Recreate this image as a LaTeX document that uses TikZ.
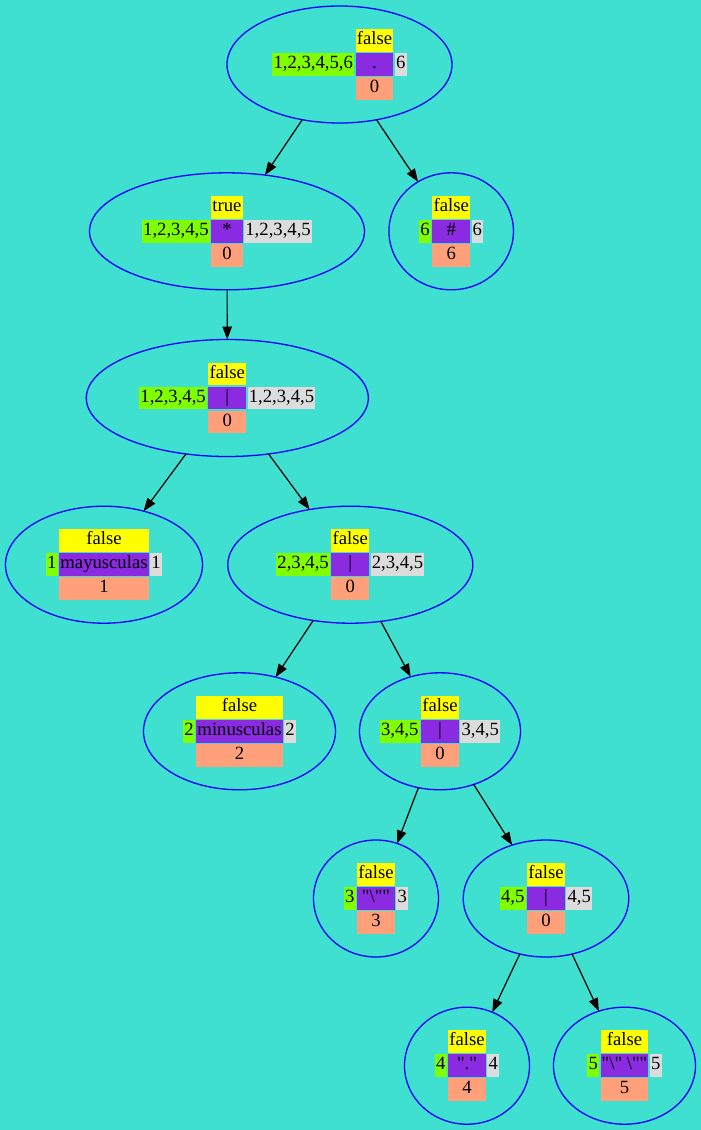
\documentclass[tikz,border=0pt]{standalone}
\usepackage{fontspec}
\setmainfont{Liberation Serif}[Ligatures=TeXOff]
\usetikzlibrary{shapes.geometric,matrix,arrows.meta}

\definecolor{bgturq}{HTML}{40E0D0}
\definecolor{cbool}{HTML}{FFFF00}
\definecolor{cfirst}{HTML}{7FFF00}
\definecolor{csym}{HTML}{8A2BE2}
\definecolor{clast}{HTML}{DCDCDC}
\definecolor{cnum}{HTML}{FFA07A}

\newcommand\gvfont{\fontsize{18.67}{22}\selectfont}

% centre-column text #4, as wide as the widest of #1, #2 and #3
\newcommand\gvmid[4]{\ooalign{\hphantom{#1}\cr\hphantom{#2}\cr\hphantom{#3}\cr\hfil#4\hfil\cr}}

\tikzset{
  gvell/.style={ellipse, draw=blue, line width=1.3pt, minimum height=117pt,
    inner sep=0pt, outer sep=0pt},
  gvtab/.style={inner sep=0pt, outer sep=0pt, column sep=1.5pt, row sep=1.5pt,
    ampersand replacement=\&},
  gvcell/.style={inner xsep=1.2pt, inner ysep=0pt, outer sep=0pt,
    minimum height=22.5pt, text height=15.5pt, text depth=7pt, font=\gvfont},
  boolcell/.style={gvcell, fill=cbool},
  firstcell/.style={gvcell, fill=cfirst},
  symcell/.style={gvcell, fill=csym},
  lastcell/.style={gvcell, fill=clast},
  numcell/.style={gvcell, fill=cnum},
  gvedge/.style={draw=black, line width=1.2pt, -{Triangle[length=13pt,width=9.5pt]}},
}

% #1 name, #2 centre, #3 ellipse width, #4 nullable, #5 firstpos,
% #6 symbol, #7 lastpos, #8 position number
\newcommand\gvnode[8]{%
  \node[gvell, minimum width=#3pt] (#1) at (#2) {};
  \matrix[gvtab] (#1-tab) at (#1.center) {
    \& \node[boolcell] {\gvmid{#4}{#6}{#8}{#4}}; \& \\
    \node[firstcell] {#5}; \& \node[symcell] {\gvmid{#4}{#6}{#8}{#6}}; \& \node[lastcell] {#7}; \\
    \& \node[numcell] {\gvmid{#4}{#6}{#8}{#8}}; \& \\
  };
}

\begin{document}
\begin{tikzpicture}[x=1pt, y=-1pt]
  \fill[bgturq] (0,0) rectangle (701,1130);
  \useasboundingbox (0,0) rectangle (701,1130);

  \gvnode{root}{339.5,64.5}{225}{false}{1,2,3,4,5,6}{.}{6}{0}
  \gvnode{star}{227,231.3}{275}{true}{1,2,3,4,5}{*}{1,2,3,4,5}{0}
  \gvnode{hash}{451.2,231.3}{124.5}{false}{6}{\#}{6}{6}
  \gvnode{alt1}{227.3,398}{282}{false}{1,2,3,4,5}{|}{1,2,3,4,5}{0}
  \gvnode{mayus}{104,564.7}{197}{false}{1}{mayusculas}{1}{1}
  \gvnode{alt2}{350.3,564.7}{245}{false}{2,3,4,5}{|}{2,3,4,5}{0}
  \gvnode{minus}{239.5,731.3}{192}{false}{2}{minusculas}{2}{2}
  \gvnode{alt3}{440,731.3}{161}{false}{3,4,5}{|}{3,4,5}{0}
  \gvnode{qbs}{376,898.5}{125}{false}{3}{"\textbackslash""}{3}{3}
  \gvnode{alt4}{546,898.5}{165.5}{false}{4,5}{|}{4,5}{0}
  \gvnode{qdot}{467,1065.7}{125}{false}{4}{"."}{4}{4}
  \gvnode{qsp}{624.5,1065.7}{142}{false}{5}{"\textbackslash" \textbackslash""}{5}{5}

  \draw[gvedge] (root) -- (star);
  \draw[gvedge] (root) -- (hash);
  \draw[gvedge] (star) -- (alt1);
  \draw[gvedge] (alt1) -- (mayus);
  \draw[gvedge] (alt1) -- (alt2);
  \draw[gvedge] (alt2) -- (minus);
  \draw[gvedge] (alt2) -- (alt3);
  \draw[gvedge] (alt3) -- (qbs);
  \draw[gvedge] (alt3) -- (alt4);
  \draw[gvedge] (alt4) -- (qdot);
  \draw[gvedge] (alt4) -- (qsp);
\end{tikzpicture}
\end{document}
